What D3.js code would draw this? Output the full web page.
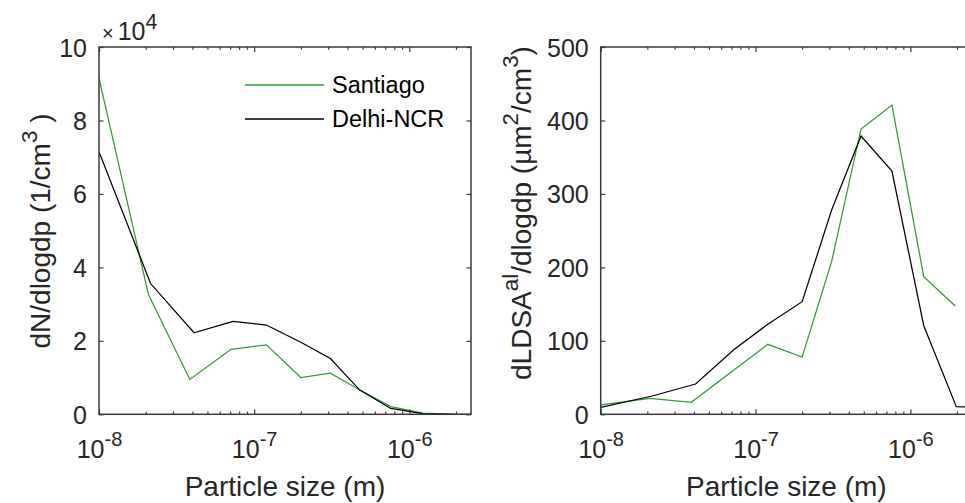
<!DOCTYPE html>
<html>
<head>
<meta charset="utf-8">
<script src="https://cdn.jsdelivr.net/npm/d3@7/dist/d3.min.js"></script>
<style>
  html, body { margin: 0; padding: 0; background: #fff; }
  svg { display: block; }
</style>
</head>
<body>
<svg id="chart" width="965" height="503"></svg>
<script>
// ---------------- data ----------------
const seriesNames = ["Santiago", "Delhi-NCR"];
const seriesColors = ["#339933", "#000000"];

const santiagoSize = [1.0e-8, 2.08e-8, 3.85e-8, 7.1e-8, 1.2e-7, 2.0e-7, 3.1e-7, 4.8e-7, 7.6e-7, 1.22e-6, 1.95e-6];
const santiagoN    = [91500, 32700, 9500, 17700, 18900, 10000, 11200, 6600, 2100, 300, 0];
const santiagoLDSA = [12.7, 21.8, 16.3, 59, 95.3, 78, 207.8, 388.4, 421, 187.4, 147.4];

const delhiSize = [1.0e-8, 2.15e-8, 4.1e-8, 7.3e-8, 1.2e-7, 2.0e-7, 3.1e-7, 4.8e-7, 7.6e-7, 1.22e-6, 1.98e-6, 2.6e-6];
const delhiN    = [71500, 35600, 22200, 25300, 24300, 19600, 15200, 6600, 1600, 200, 0, 0];
const delhiLDSA = [9.5, 24.9, 41.2, 88.5, 122.5, 153.3, 278, 378.8, 331.2, 120.6, 10.4, 10];

const xDomain = [1e-8, 2.5e-6];
const xMajorTicks = [1e-8, 1e-7, 1e-6];
const leftYTicks = [0, 20000, 40000, 60000, 80000, 100000];
const rightYTicks = [0, 100, 200, 300, 400, 500];
const leftYLabel = ["dN/dlogdp (1/cm", "3", " )"];
const rightYLabel = ["dLDSA", "al", "/dlogdp (µm", "2", "/cm", "3", ")"];
const xLabel = "Particle size (m)";

// ---------------- drawing ----------------
const svg = d3.select("#chart");
const FONT = "'Liberation Sans', Arial, Helvetica, sans-serif";
const TXT = "#262626";
const AX = "#3a3a3a";
const TICK_FS = 25, LABEL_FS = 28, LEG_FS = 23.5;
const TOP = 47, BOTTOM = 414.3;

svg.attr("font-family", FONT);

function minorTicks(domain) {
  const out = [];
  for (let e = -9; e <= -5; e++) {
    for (let m = 2; m <= 9; m++) {
      const v = m * Math.pow(10, e);
      if (v > domain[0] && v < domain[1]) out.push(v);
    }
  }
  return out;
}

function styleAxis(g) {
  g.selectAll("path.domain").remove();
  g.selectAll(".tick line").attr("stroke", AX).attr("stroke-width", 1.2);
}

function panel(id, x0, x1, yDomain, yTicks, yFmt, data) {
  const g = svg.append("g").attr("id", id);
  const x = d3.scaleLog().domain(xDomain).range([x0, x1]);
  const y = d3.scaleLinear().domain(yDomain).range([BOTTOM, TOP]);

  const clipId = id + "-clip";
  svg.append("defs").append("clipPath").attr("id", clipId)
    .append("rect").attr("x", x0).attr("y", TOP).attr("width", x1 - x0).attr("height", BOTTOM - TOP);

  const line = d3.line().x(d => x(d[0])).y(d => y(d[1]));
  data.forEach(s => {
    g.append("path")
      .datum(s.sizes.map((v, i) => [v, s.values[i]]))
      .attr("clip-path", `url(#${clipId})`)
      .attr("fill", "none")
      .attr("stroke", s.color)
      .attr("stroke-width", 1.25)
      .attr("d", line);
  });

  const gb = g.append("g").attr("transform", `translate(0,${BOTTOM})`)
    .call(d3.axisBottom(x).tickValues(xMajorTicks).tickSize(-5).tickSizeOuter(0).tickFormat(() => "10"));
  styleAxis(gb);
  gb.selectAll(".tick text").each(function (d) {
    const t = d3.select(this);
    t.text(null).attr("y", 44).attr("dy", null)
      .attr("fill", TXT).attr("font-size", TICK_FS).attr("font-family", FONT);
    t.append("tspan").text("10");
    t.append("tspan").attr("font-size", TICK_FS * 0.8).attr("dy", -12)
      .text(String(Math.round(Math.log10(d))));
  });
  const gbm = g.append("g").attr("transform", `translate(0,${BOTTOM})`)
    .call(d3.axisBottom(x).tickValues(minorTicks(xDomain)).tickSize(-2.8).tickSizeOuter(0).tickFormat(""));
  styleAxis(gbm);
  const gt = g.append("g").attr("transform", `translate(0,${TOP})`)
    .call(d3.axisTop(x).tickValues(xMajorTicks).tickSize(-5).tickSizeOuter(0).tickFormat(""));
  styleAxis(gt);
  const gtm = g.append("g").attr("transform", `translate(0,${TOP})`)
    .call(d3.axisTop(x).tickValues(minorTicks(xDomain)).tickSize(-2.8).tickSizeOuter(0).tickFormat(""));
  styleAxis(gtm);

  const gl = g.append("g").attr("transform", `translate(${x0},0)`)
    .call(d3.axisLeft(y).tickValues(yTicks).tickSize(-4.5).tickSizeOuter(0).tickPadding(12).tickFormat(yFmt));
  styleAxis(gl);
  gl.selectAll(".tick text").attr("fill", TXT).attr("font-size", TICK_FS).attr("font-family", FONT).attr("dy", "0.36em");
  const gr = g.append("g").attr("transform", `translate(${x1},0)`)
    .call(d3.axisRight(y).tickValues(yTicks).tickSize(-4.5).tickSizeOuter(0).tickFormat(""));
  styleAxis(gr);

  g.append("rect").attr("x", x0).attr("y", TOP).attr("width", x1 - x0).attr("height", BOTTOM - TOP)
    .attr("fill", "none").attr("stroke", AX).attr("stroke-width", 1.5);

  g.append("text").attr("x", (x0 + x1) / 2).attr("y", 496).attr("text-anchor", "middle")
    .attr("font-size", LABEL_FS).attr("fill", TXT).text(xLabel);

  return { g, x, y };
}

// ---- left panel ----
panel("left", 99, 471, [0, 100000], leftYTicks, d => String(d / 10000), [
  { sizes: santiagoSize, values: santiagoN, color: seriesColors[0] },
  { sizes: delhiSize, values: delhiN, color: seriesColors[1] }
]);

// exponent marker
const ex = svg.append("text").attr("x", 102).attr("y", 40).attr("font-size", TICK_FS).attr("fill", TXT);
ex.append("tspan").attr("font-size", TICK_FS * 0.8).text("×");
ex.append("tspan").attr("dx", 4).text("10");
ex.append("tspan").attr("font-size", TICK_FS * 0.85).attr("dy", -11).text("4");

function rotLabel(cx, cy, parts) {
  const t = svg.append("text")
    .attr("transform", `translate(${cx},${cy}) rotate(-90)`)
    .attr("text-anchor", "middle").attr("font-size", LABEL_FS).attr("fill", TXT);
  parts.forEach((p, i) => {
    const sup = i % 2 === 1;
    const ts = t.append("tspan").text(p);
    if (sup) ts.attr("font-size", LABEL_FS * 0.8).attr("dy", -13);
    else if (i > 0) ts.attr("dy", 13);
  });
  return t;
}
rotLabel(50, 231, leftYLabel);

// legend
const legend = svg.append("g");
seriesNames.forEach((name, i) => {
  const ly = 85 + i * 34;
  legend.append("line").attr("x1", 245).attr("x2", 324).attr("y1", ly).attr("y2", ly)
    .attr("stroke", seriesColors[i]).attr("stroke-width", 1.3);
  legend.append("text").attr("x", 332).attr("y", ly).attr("dy", "0.36em")
    .attr("font-size", LEG_FS).attr("fill", "#000").text(name);
});

// ---- right panel ----
panel("right", 600.7, 972, [0, 500], rightYTicks, d => String(d), [
  { sizes: santiagoSize, values: santiagoLDSA, color: seriesColors[0] },
  { sizes: delhiSize, values: delhiLDSA, color: seriesColors[1] }
]);
rotLabel(531, 213, rightYLabel);
</script>
</body>
</html>
